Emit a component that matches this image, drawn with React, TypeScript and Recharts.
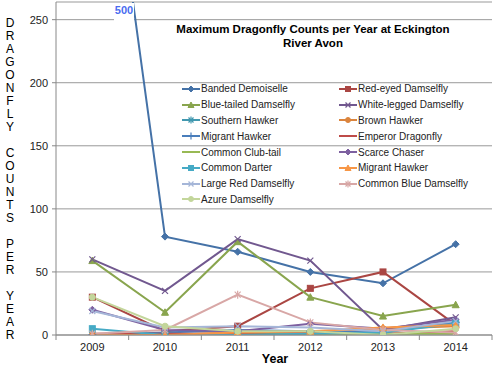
import React from 'react';
import { LineChart, Line, XAxis, YAxis, CartesianGrid } from 'recharts';

const years = ['2009', '2010', '2011', '2012', '2013', '2014'];
const yTicks = [0, 50, 100, 150, 200, 250];

const bandedDemoiselle = [500, 78, 66, 50, 41, 72];
const redEyedDamselfly = [30, 3, 7, 37, 50, 8];
const blueTailedDamselfly = [59, 18, 74, 30, 15, 24];
const whiteLeggedDamselfly = [60, 35, 76, 59, 4, 14];
const southernHawker = [0, 1, 1, 1, 2, 11];
const brownHawker = [0, 0, 2, 1, 5, 7];
const migrantHawker = [0, 2, 4, 3, 2, 10];
const emperorDragonfly = [1, 1, 1, 2, 1, 3];
const commonClubTail = [0, 0, 0, 1, 1, 1];
const scarceChaser = [20, 4, 3, 9, 5, 12];
const commonDarter = [5, 0, 0, 1, 2, 9];
const migrantHawker2 = [0, 0, 2, 3, 6, 8];
const largeRedDamselfly = [19, 6, 7, 6, 3, 11];
const commonBlueDamselfly = [1, 4, 32, 10, 4, 2];
const azureDamselfly = [30, 7, 3, 3, 0, 5];

const seriesValues: Record<string, number[]> = {
  banded: bandedDemoiselle,
  redEyed: redEyedDamselfly,
  blueTailed: blueTailedDamselfly,
  whiteLegged: whiteLeggedDamselfly,
  southern: southernHawker,
  brown: brownHawker,
  migrant: migrantHawker,
  emperor: emperorDragonfly,
  clubTail: commonClubTail,
  scarce: scarceChaser,
  darter: commonDarter,
  migrant2: migrantHawker2,
  largeRed: largeRedDamselfly,
  commonBlue: commonBlueDamselfly,
  azure: azureDamselfly,
};

const series = [
  { key: 'banded', name: 'Banded Demoiselle', color: '#4572A7', marker: 'diamond' },
  { key: 'redEyed', name: 'Red-eyed Damselfly', color: '#AA4643', marker: 'square' },
  { key: 'blueTailed', name: 'Blue-tailed Damselfly', color: '#89A54E', marker: 'triangle' },
  { key: 'whiteLegged', name: 'White-legged Damselfly', color: '#71588F', marker: 'x' },
  { key: 'southern', name: 'Southern Hawker', color: '#4198AF', marker: 'star' },
  { key: 'brown', name: 'Brown Hawker', color: '#DB843D', marker: 'circle' },
  { key: 'migrant', name: 'Migrant Hawker', color: '#4A7EBB', marker: 'plus' },
  { key: 'emperor', name: 'Emperor Dragonfly', color: '#BE4B48', marker: 'none' },
  { key: 'clubTail', name: 'Common Club-tail', color: '#98B954', marker: 'none' },
  { key: 'scarce', name: 'Scarce Chaser', color: '#7D60A0', marker: 'diamond' },
  { key: 'darter', name: 'Common Darter', color: '#46AAC5', marker: 'square' },
  { key: 'migrant2', name: 'Migrant Hawker', color: '#F79646', marker: 'triangle' },
  { key: 'largeRed', name: 'Large Red Damselfly', color: '#A5B6D8', marker: 'x' },
  { key: 'commonBlue', name: 'Common Blue Damselfly', color: '#D8A7A6', marker: 'star' },
  { key: 'azure', name: 'Azure Damselfly', color: '#C3D69B', marker: 'circle' },
];

const data = years.map((year, i) => {
  const row: Record<string, string | number> = { year };
  series.forEach((s) => { row[s.key] = seriesValues[s.key][i]; });
  return row;
});

const FONT = '"Liberation Sans", Arial, sans-serif';
const PLOT_W = 436;
const HALF_BAND = PLOT_W / years.length / 2;

function Marker({ type, cx, cy, color, s = 3 }: any) {
  switch (type) {
    case 'diamond':
      return <polygon points={`${cx},${cy - s - 0.5} ${cx + s + 0.5},${cy} ${cx},${cy + s + 0.5} ${cx - s - 0.5},${cy}`} fill={color} stroke={color} />;
    case 'square':
      return <rect x={cx - s} y={cy - s} width={2 * s} height={2 * s} fill={color} stroke={color} />;
    case 'triangle':
      return <polygon points={`${cx},${cy - s - 0.5} ${cx + s + 0.5},${cy + s} ${cx - s - 0.5},${cy + s}`} fill={color} stroke={color} />;
    case 'circle':
      return <circle cx={cx} cy={cy} r={s} fill={color} stroke={color} />;
    case 'x':
      return (
        <g stroke={color} strokeWidth={1.2}>
          <line x1={cx - s} y1={cy - s} x2={cx + s} y2={cy + s} />
          <line x1={cx - s} y1={cy + s} x2={cx + s} y2={cy - s} />
        </g>
      );
    case 'star':
      return (
        <g stroke={color} strokeWidth={1.2}>
          <line x1={cx - s} y1={cy - s} x2={cx + s} y2={cy + s} />
          <line x1={cx - s} y1={cy + s} x2={cx + s} y2={cy - s} />
          <line x1={cx} y1={cy - s - 1} x2={cx} y2={cy + s + 1} />
        </g>
      );
    case 'plus':
      return (
        <g stroke={color} strokeWidth={1.2}>
          <line x1={cx - s - 1} y1={cy} x2={cx + s + 1} y2={cy} />
          <line x1={cx} y1={cy - s - 1} x2={cx} y2={cy + s + 1} />
        </g>
      );
    default:
      return null;
  }
}

function XTick(props: any) {
  const { x, y, payload, index } = props;
  const last = index === years.length - 1;
  return (
    <g>
      <line x1={x - HALF_BAND} y1={y} x2={x - HALF_BAND} y2={y + 5} stroke="#888" />
      {last && <line x1={x + HALF_BAND} y1={y} x2={x + HALF_BAND} y2={y + 5} stroke="#888" />}
      <text x={x} y={y + 16} textAnchor="middle" fontSize={11} fill="#222" fontFamily={FONT}>
        {payload.value}
      </text>
    </g>
  );
}

function ChartLegend() {
  return (
    <div style={{ position: 'absolute', left: 182, top: 81, width: 312, display: 'grid', gridTemplateColumns: '157px 155px', fontSize: 10, color: '#222' }}>
      {series.map((s) => (
        <div key={s.key} style={{ height: 15.8, display: 'flex', alignItems: 'center', whiteSpace: 'nowrap' }}>
          <svg width={18} height={10} style={{ marginRight: 1 }}>
            <line x1={0} y1={5} x2={18} y2={5} stroke={s.color} strokeWidth={2} />
            <Marker type={s.marker} cx={9} cy={5} color={s.color} s={2.5} />
          </svg>
          <span>{s.name}</span>
        </div>
      ))}
    </div>
  );
}

const yLabel = 'DRAGONFLY COUNTS PER YEAR'.split('');

export default function App() {
  return (
    <div style={{ position: 'absolute', left: 0, top: 0, width: 500, height: 374, background: '#fff', fontFamily: FONT }}>
      <LineChart width={500} height={374} data={data} margin={{ top: 2, right: 8, bottom: 0, left: 0 }}>
        <CartesianGrid vertical={false} stroke="#999" />
        <XAxis
          dataKey="year"
          height={39}
          padding={{ left: HALF_BAND, right: HALF_BAND }}
          axisLine={{ stroke: '#888' }}
          tickLine={false}
          tickSize={0}
          tickMargin={0}
          interval={0}
          tick={<XTick />}
        />
        <XAxis xAxisId="top" orientation="top" dataKey="year" height={0} tick={false} tickLine={false} axisLine={{ stroke: '#999' }} />
        <YAxis
          width={56}
          domain={[0, 264]}
          ticks={yTicks}
          allowDataOverflow
          axisLine={{ stroke: '#888' }}
          tickLine={{ stroke: '#888' }}
          tickSize={4}
          tickMargin={4}
          tick={{ fontSize: 11, fill: '#222', fontFamily: FONT }}
        />
        <YAxis yAxisId="right" orientation="right" width={0} domain={[0, 264]} tick={false} tickLine={false} axisLine={{ stroke: '#999' }} />
        {series.map((s) => (
          <Line
            key={s.key}
            dataKey={s.key}
            name={s.name}
            stroke={s.color}
            strokeWidth={2}
            type="linear"
            isAnimationActive={false}
            dot={(p: any) => (
              <Marker key={`${s.key}-${p.index}`} type={s.marker} cx={p.cx} cy={p.cy} color={s.color} />
            )}
            activeDot={false}
          />
        ))}
      </LineChart>

      <ChartLegend />

      <div style={{ position: 'absolute', left: 130, top: 23, width: 366, textAlign: 'center', fontWeight: 'bold', fontSize: 11.5, lineHeight: '13.5px', color: '#000' }}>
        Maximum Dragonfly Counts per Year at Eckington<br />River Avon
      </div>

      <div style={{ position: 'absolute', left: 114, top: 3, width: 20, height: 19, background: '#fff', color: '#4A6CF0', fontWeight: 'bold', fontSize: 11, lineHeight: '14px', textAlign: 'center' }}>
        {bandedDemoiselle[0]}
      </div>

      <div style={{ position: 'absolute', left: 255, top: 352, width: 40, textAlign: 'center', fontWeight: 'bold', fontSize: 12.5, color: '#000' }}>
        Year
      </div>

      <div style={{ position: 'absolute', left: 0, top: 17, width: 20, textAlign: 'center', fontSize: 12, lineHeight: '13px', color: '#000' }}>
        {yLabel.map((c, i) => (
          <div key={i} style={{ height: 13 }}>{c === ' ' ? '\u00a0' : c}</div>
        ))}
      </div>
    </div>
  );
}
